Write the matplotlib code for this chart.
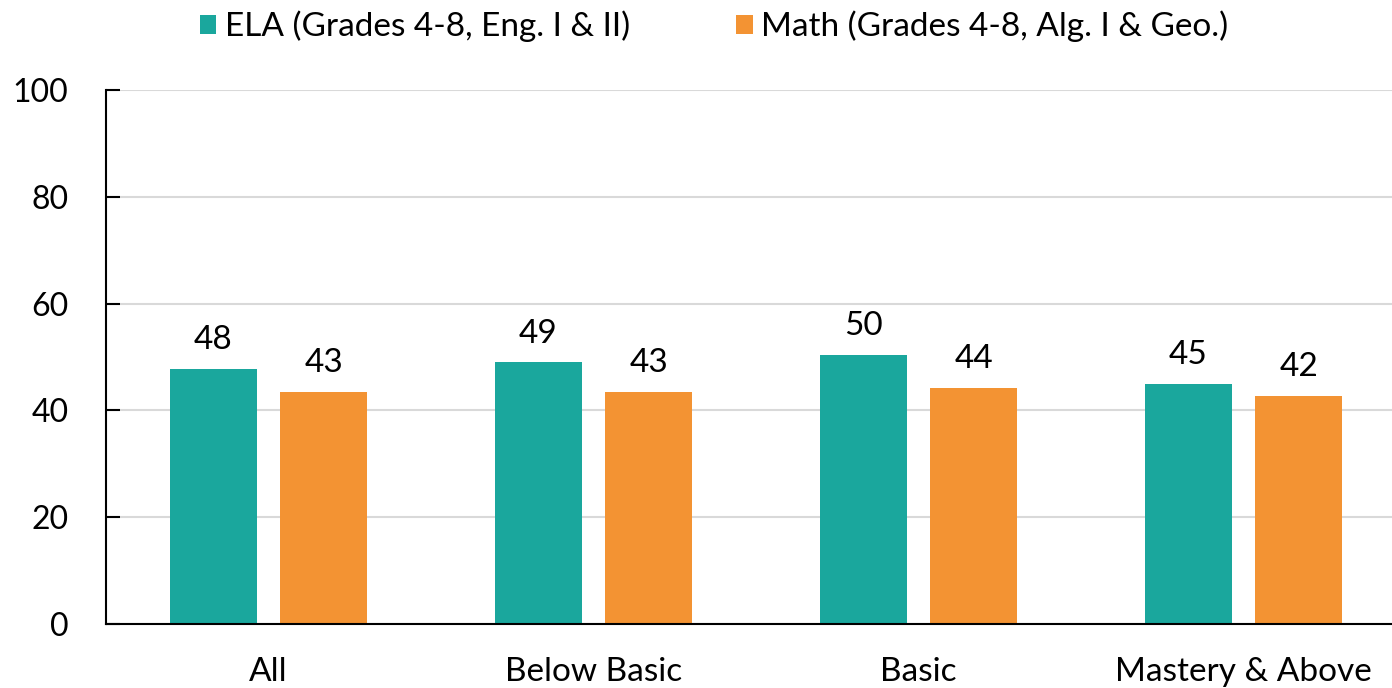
import matplotlib.pyplot as plt
import numpy as np

# data
categories = ['All', 'Below Basic', 'Basic', 'Mastery & Above']
ela = [47.7, 49.0, 50.4, 45.0]
math = [43.4, 43.4, 44.2, 42.7]
ela_labels = ['48', '49', '50', '45']
math_labels = ['43', '43', '44', '42']

plt.rcParams['font.family'] = ['Lato', 'DejaVu Sans']

fig = plt.figure(figsize=(13.92, 6.88), dpi=100)
ax = fig.add_axes([0.0761, 0.093, 0.934, 0.776])

x = np.arange(len(categories))
w = 0.268
b1 = ax.bar(x - 0.17, ela, w, color='#1AA79D', label='ELA (Grades 4-8, Eng. I & II)', zorder=3)
b2 = ax.bar(x + 0.17, math, w, color='#F39333', label='Math (Grades 4-8, Alg. I & Geo.)', zorder=3)

ax.bar_label(b1, labels=ela_labels, padding=10, fontsize=24)
ax.bar_label(b2, labels=math_labels, padding=10, fontsize=24)

ax.set_xlim(-0.5, 3.5)
ax.set_ylim(0, 100)
ax.set_yticks(range(0, 101, 20))
ax.set_xticks(x)
ax.set_xticklabels(categories, fontsize=24)
ax.tick_params(axis='x', length=0, pad=24)
ax.tick_params(axis='y', direction='in', length=10, width=1.5, labelsize=23, pad=27)
ax.grid(axis='y', color='#d9d9d9', linewidth=1.5, zorder=0)

for s in ['top', 'right']:
    ax.spines[s].set_visible(False)
for s in ['left', 'bottom']:
    ax.spines[s].set_linewidth(1.5)
    ax.spines[s].set_zorder(4)

fig.legend(loc='center', bbox_to_anchor=(0.513, 0.962), ncol=2, frameon=False,
           fontsize=24, handlelength=0.5, handleheight=0.5, handletextpad=0.25,
           columnspacing=3.2)

plt.savefig('out.png', dpi=100)
